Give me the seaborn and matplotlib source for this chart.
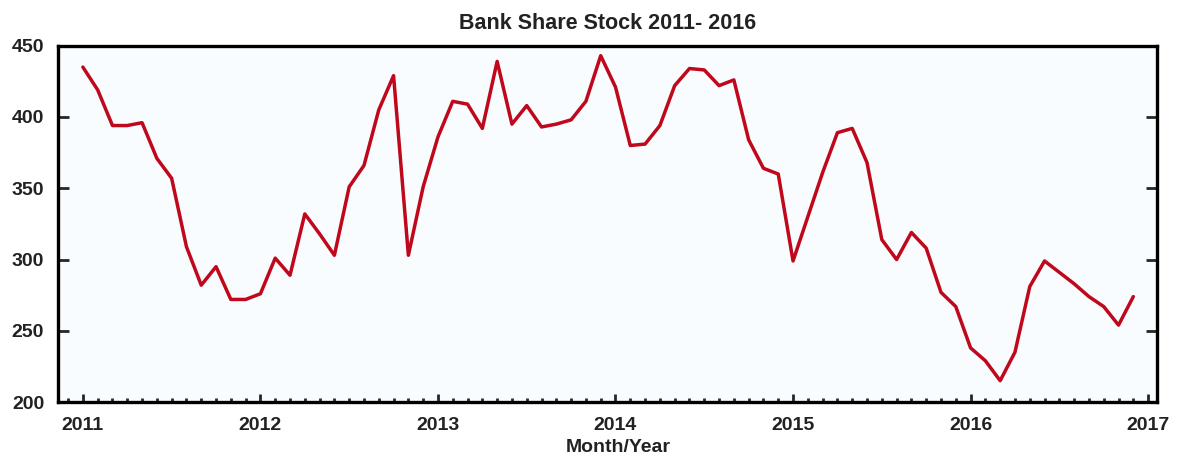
import numpy as np
import pandas as pd
import matplotlib
matplotlib.use("Agg")
import matplotlib.pyplot as plt
from matplotlib.ticker import MultipleLocator
import seaborn as sns

# monthly closing values, Jan 2011 .. Dec 2016
start_year = 2011
values = [
    435, 419, 394, 394, 396, 371, 357, 309, 282, 295, 272, 272,
    276, 301, 289, 332, 318, 303, 351, 366, 405, 429, 303, 351,
    386, 411, 409, 392, 439, 395, 408, 393, 395, 398, 411, 443,
    421, 380, 381, 394, 422, 434, 433, 422, 426, 384, 364, 360,
    299, 330, 361, 389, 392, 368, 314, 300, 319, 308, 277, 267,
    238, 229, 215, 235, 281, 299, 291, 283, 274, 267, 254, 274,
]
year_ticks = [2011, 2012, 2013, 2014, 2015, 2016, 2017]
value_ticks = [200, 250, 300, 350, 400, 450]

df = pd.DataFrame({"month": start_year + np.arange(len(values)) / 12, "value": values})

sns.set_style("ticks")
plt.rcParams["font.family"] = ["Liberation Sans", "DejaVu Sans"]
plt.rcParams["font.weight"] = "bold"

fig = plt.figure(figsize=(11.77, 4.59), dpi=100)
ax = fig.add_axes([0.0493, 0.124, 0.9337, 0.7764])
ax.set_facecolor("#f9fcfe")

sns.lineplot(data=df, x="month", y="value", ax=ax, color="#c0081c", linewidth=2.5)

ax.set_xlim(2010.86, 2017.05)
ax.set_ylim(200, 450)
ax.set_xticks(year_ticks)
ax.set_xticklabels([str(y) for y in year_ticks])
ax.xaxis.set_minor_locator(MultipleLocator(1 / 12))
ax.set_yticks(value_ticks)

ax.tick_params(axis="x", which="major", direction="in", length=6, width=2, pad=11,
               labelsize=14, top=False)
ax.tick_params(axis="x", which="minor", direction="in", length=3, width=2, top=False)
ax.tick_params(axis="y", which="major", direction="in", length=8, width=2, pad=10,
               labelsize=14, left=True, right=True)

for spine in ax.spines.values():
    spine.set_linewidth(2.4)
    spine.set_color("black")

for lab in ax.get_xticklabels() + ax.get_yticklabels():
    lab.set_fontweight("bold")
    lab.set_color("#222222")

ax.set_xlabel("Month/Year", fontsize=14, fontweight="bold", labelpad=3, color="#222222", x=0.51)
ax.set_ylabel("")
ax.set_title("Bank Share Stock 2011- 2016", fontsize=15.5, fontweight="bold", pad=12,
             color="#222222")

fig.savefig("out.png", dpi=100, facecolor="white")
